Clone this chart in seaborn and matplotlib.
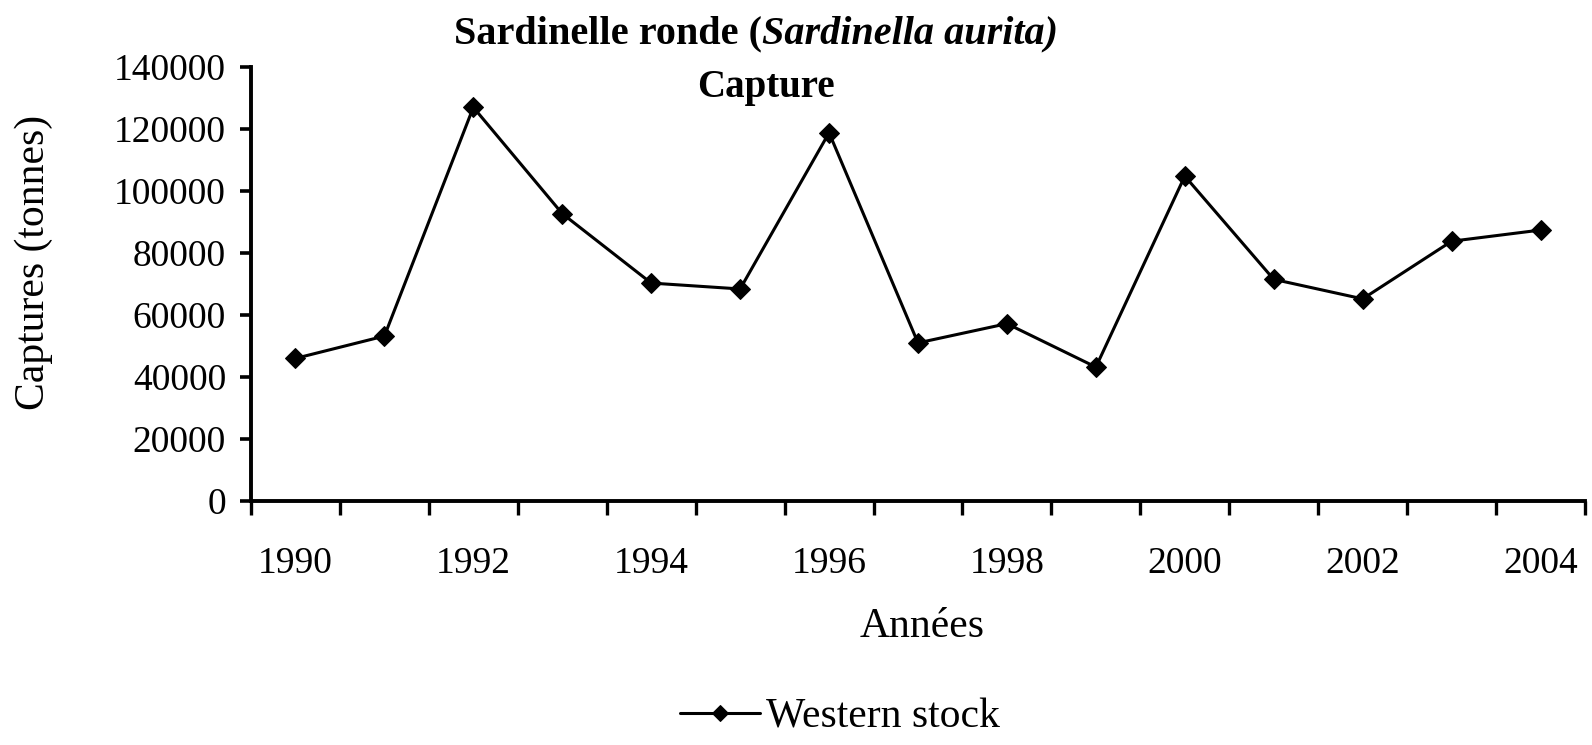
import matplotlib
matplotlib.use("Agg")
import matplotlib.pyplot as plt
import seaborn as sns
import pandas as pd
import numpy as np

# data
years = [1990, 1991, 1992, 1993, 1994, 1995, 1996, 1997, 1998, 1999,
         2000, 2001, 2002, 2003, 2004]
captures = [46000, 53200, 127000, 92700, 70300, 68400, 118800, 51000,
            57200, 43200, 104800, 71500, 65200, 83800, 87400]
series_name = "Western stock"
year_labels = [1990, 1992, 1994, 1996, 1998, 2000, 2002, 2004]
y_ticks = [0, 20000, 40000, 60000, 80000, 100000, 120000, 140000]

df = pd.DataFrame({"year": years, "captures": captures, "serie": series_name})

sns.set_style("white")
plt.rcParams["font.family"] = ["Liberation Serif", "DejaVu Serif"]
plt.rcParams["text.color"] = "black"
plt.rcParams["xtick.color"] = "black"
plt.rcParams["ytick.color"] = "black"

fig = plt.figure(figsize=(15.92, 7.45), dpi=100)
W, H = 1592, 745
ax = fig.add_axes([251 / W, 1 - 501 / H, (1585 - 251) / W, (501 - 67) / H])

sns.lineplot(data=df, x="year", y="captures", hue="serie", palette=["black"],
             marker="D", markersize=10, markeredgecolor="black",
             linewidth=2.2, ax=ax)

ax.set_xlim(years[0] - 0.5, years[-1] + 0.5)
ax.set_ylim(0, 140000)
ax.set_yticks(y_ticks)
ax.set_yticklabels([str(v) for v in y_ticks], fontsize=27)
ax.set_xticks(year_labels)
ax.set_xticklabels([str(v) for v in year_labels], fontsize=27)
ax.set_xticks(np.arange(years[0] - 0.5, years[-1] + 1), minor=True)
ax.tick_params(axis="x", which="major", length=0, pad=33, bottom=True)
ax.tick_params(axis="x", which="minor", length=10, width=2.4, direction="out",
               color="black", bottom=True)
ax.tick_params(axis="y", which="major", length=8, width=2.6, direction="out",
               color="black", pad=10, left=True)
ax.set_xlabel("")
ax.set_ylabel("")

for side in ["top", "right"]:
    ax.spines[side].set_visible(False)
for side in ["left", "bottom"]:
    ax.spines[side].set_linewidth(2.8)
    ax.spines[side].set_color("black")

# axis titles
fig.text(34 / W, 1 - 262 / H, "Captures (tonnes)", rotation=90, fontsize=30,
         ha="center", va="center")
fig.text(922 / W, 1 - 627 / H, "Années", fontsize=30, ha="center", va="center")

# title: bold with italic species name
fig.canvas.draw()
renderer = fig.canvas.get_renderer()
t1 = fig.text(454 / W, 1 - 43 / H, "Sardinelle ronde (", fontsize=29,
              fontweight="bold", ha="left", va="baseline")
bb = t1.get_window_extent(renderer)
fig.text(bb.x1 / W, 1 - 43 / H, "Sardinella aurita)", fontsize=29,
         fontweight="bold", fontstyle="italic", ha="left", va="baseline")
fig.text(766 / W, 1 - 87 / H, "Capture", fontsize=28, fontweight="bold",
         ha="center", va="center")

ax.legend(loc="center", bbox_to_anchor=(840 / W, 1 - 717 / H),
          bbox_transform=fig.transFigure, frameon=False, fontsize=30,
          handlelength=1.9, handletextpad=0.15, markerscale=0.8)

fig.savefig("out.png", dpi=100)
